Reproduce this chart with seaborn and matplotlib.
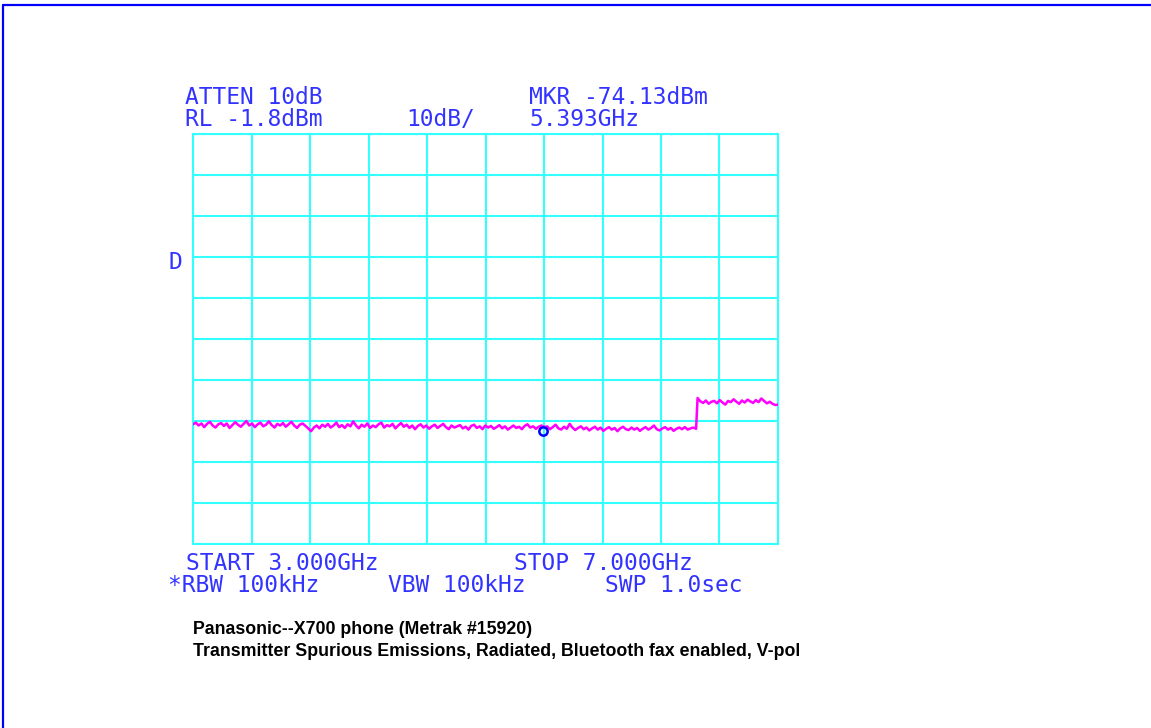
import numpy as np
import pandas as pd
import matplotlib
matplotlib.use("Agg")
import matplotlib.pyplot as plt
from matplotlib.lines import Line2D
import seaborn as sns

# Sweep settings
START_GHZ = 3.0
STOP_GHZ = 7.0
REF_LEVEL = -1.8      # dBm, top graticule line
DB_PER_DIV = 10
N_DIV = 10

# Noise floor below the step (3.0 - 6.44 GHz), dBm
floor_low = [
    -72.6, -72.2, -72.9, -72.4, -73.3, -72.5, -72.0, -72.9, -73.4, -72.6, -72.3, -73.0,
    -72.4, -73.5, -72.8, -72.1, -72.7, -73.2, -72.5, -71.8, -72.9, -72.4, -73.3, -72.6,
    -72.2, -73.1, -72.7, -71.9, -72.8, -73.4, -72.5, -72.9, -72.3, -73.2, -72.6, -72.0,
    -72.9, -73.5, -72.7, -72.4, -73.0, -73.6,
    -74.3, -73.4, -72.9, -73.6, -72.7, -73.2, -72.5, -73.4, -72.9, -72.2, -73.3, -72.8,
    -73.5, -72.6, -73.1, -71.9, -72.9, -73.6, -72.7, -73.2, -72.4, -73.5, -72.9, -73.3,
    -72.6, -72.2, -73.4, -72.8, -73.1, -72.5, -73.6, -72.9, -72.3, -73.2, -72.7, -73.5,
    -72.9, -73.8, -73.0, -72.6, -73.4, -72.9, -73.7, -73.1, -72.7, -73.5, -73.0, -72.5,
    -73.3, -73.8, -72.9, -73.4, -73.1, -72.8, -73.6, -73.2, -73.9, -73.0, -72.7, -73.5,
    -73.1, -73.8, -72.9, -73.4, -73.0, -73.7, -73.3, -72.8, -73.6, -73.1, -73.9, -73.4,
    -72.9, -73.5, -73.2, -73.8, -73.0, -72.6, -73.4, -73.1, -73.7, -73.2, -72.9, -73.3,
    -73.1, -73.8, -73.3, -72.7, -73.6, -73.9, -73.2, -73.7, -72.5, -73.4, -74.0, -73.5,
    -73.1, -73.8, -73.4, -74.1, -73.6, -73.2, -73.9, -73.4, -74.2, -73.7, -73.3, -73.9,
    -73.5, -74.3, -73.6, -73.2, -73.8, -74.0, -73.4, -73.9, -73.5, -74.2, -73.7, -73.3,
    -73.9, -73.5, -72.9, -73.8, -74.1, -73.6, -73.3, -73.9, -73.5, -74.2, -73.7, -73.4,
    -73.8, -73.3, -73.9, -73.6, -73.4, -73.7,
]
# Raised floor after the step (6.45 - 7.0 GHz), dBm
floor_high = [
    -66.2, -67.0, -67.4, -66.8, -67.6, -67.1, -66.9, -67.5, -66.7, -67.3,
    -67.8, -66.9, -67.2, -66.5, -67.1, -67.6, -66.8, -67.3, -66.6, -67.0,
    -67.4, -66.7, -67.2, -66.3, -66.9, -67.5, -67.1, -67.6, -67.9, -67.8,
]
STEP_LOW_END = 6.44
STEP_HIGH_START = 6.45

MARKER_GHZ = 5.393
MARKER_DBM = -74.13

freq = np.concatenate([
    np.linspace(START_GHZ, STEP_LOW_END, len(floor_low)),
    np.linspace(STEP_HIGH_START, STOP_GHZ, len(floor_high)),
])
trace = pd.DataFrame({"freq_ghz": freq, "level_dbm": floor_low + floor_high})

sns.set_style("white")
plt.rcParams["font.family"] = ["DejaVu Sans Mono", "DejaVu Sans"]

W, H = 1151, 728
fig = plt.figure(figsize=(W / 100, H / 100), dpi=100)
fig.patch.set_facecolor("white")

left, right, top, bottom = 193, 778, 134, 544
ax = fig.add_axes([left / W, 1 - bottom / H, (right - left) / W, (bottom - top) / H])

GRID = "#33ffff"
TRACE = "#ff00ff"
BLUE_TXT = "#3333ff"

sns.lineplot(data=trace, x="freq_ghz", y="level_dbm", ax=ax,
             color=TRACE, linewidth=1.8, zorder=3)
ax.plot([MARKER_GHZ], [MARKER_DBM], marker="o", markersize=6,
        markerfacecolor="none", markeredgecolor="#0000ff", markeredgewidth=1.8,
        linestyle="none", zorder=4)

bottom_level = REF_LEVEL - DB_PER_DIV * N_DIV
ax.set_xlim(START_GHZ, STOP_GHZ)
ax.set_ylim(bottom_level, REF_LEVEL)
ax.set_xticks(np.linspace(START_GHZ, STOP_GHZ, N_DIV + 1))
ax.set_yticks(np.linspace(bottom_level, REF_LEVEL, N_DIV + 1))
ax.grid(True, color=GRID, linewidth=1.5, zorder=1)
ax.set_axisbelow(True)
ax.tick_params(left=False, bottom=False, labelleft=False, labelbottom=False)
ax.set_xlabel("")
ax.set_ylabel("")
for s in ax.spines.values():
    s.set_color(GRID)
    s.set_linewidth(1.5)
    s.set_visible(True)


def px_text(x, y, s, **kw):
    fig.text(x / W, 1 - y / H, s, ha="left", va="center", **kw)


mono = dict(color=BLUE_TXT, fontsize=16.5, family=["DejaVu Sans Mono", "DejaVu Sans"])
px_text(185, 98, "ATTEN 10dB", **mono)
px_text(185, 120, "RL -1.8dBm", **mono)
px_text(406, 120, "10dB/", **mono)
px_text(529, 98, "MKR -74.13dBm", **mono)
px_text(529, 120, "5.393GHz", **mono)
px_text(169, 262, "D", **mono)
px_text(186, 564, "START 3.000GHz", **mono)
px_text(514, 564, "STOP 7.000GHz", **mono)
px_text(168, 586, "*RBW 100kHz", **mono)
px_text(388, 586, "VBW 100kHz", **mono)
px_text(605, 586, "SWP 1.0sec", **mono)

cap = dict(color="black", fontsize=12.8, fontweight="bold",
           family=["Liberation Sans", "DejaVu Sans"])
px_text(193, 630, "Panasonic--X700 phone (Metrak #15920)", **cap)
px_text(193, 651, "Transmitter Spurious Emissions, Radiated, Bluetooth fax enabled, V-pol", **cap)

# Page frame (top and left edges)
fig.add_artist(Line2D([3 / W, 1], [1 - 4.5 / H, 1 - 4.5 / H], color="#0000ff",
                      linewidth=1.6, transform=fig.transFigure))
fig.add_artist(Line2D([3 / W, 3 / W], [0, 1 - 4.5 / H], color="#0000ff",
                      linewidth=1.6, transform=fig.transFigure))

fig.savefig("out.png", dpi=100, facecolor="white")
